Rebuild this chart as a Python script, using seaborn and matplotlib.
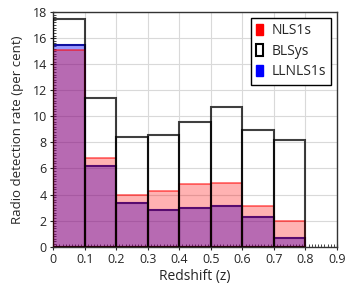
import numpy as np
import pandas as pd
import matplotlib
matplotlib.use("Agg")
import matplotlib.pyplot as plt
import seaborn as sns
from matplotlib.patches import Patch
from matplotlib.ticker import AutoMinorLocator, MultipleLocator

bin_edges = [0.0, 0.1, 0.2, 0.3, 0.4, 0.5, 0.6, 0.7, 0.8]
bin_centers = [0.05, 0.15, 0.25, 0.35, 0.45, 0.55, 0.65, 0.75]
nls1s = [15.1, 6.8, 4.0, 4.3, 4.8, 4.9, 3.1, 1.95]
blsys = [17.5, 11.4, 8.45, 8.6, 9.55, 10.7, 8.95, 8.2]
llnls1s = [15.5, 6.2, 3.35, 2.85, 2.95, 3.1, 2.3, 0.7]
xtick_labels = ["0", "0.1", "0.2", "0.3", "0.4", "0.5", "0.6", "0.7", "0.8", "0.9"]

df = pd.DataFrame({"z": bin_centers, "NLS1s": nls1s, "BLSys": blsys, "LLNLS1s": llnls1s})

sns.set_style("ticks")
plt.rcParams['font.family'] = ['Open Sans', 'DejaVu Sans']

fig = plt.figure(figsize=(3.54, 2.94), dpi=100)
ax = fig.add_axes([0.15, 0.161, 0.802, 0.798])

ax.grid(True, color="#d9d9d9", linewidth=0.8, zorder=0)
ax.set_axisbelow(True)

n0 = len(ax.patches)
sns.histplot(data=df, x="z", weights="LLNLS1s", bins=bin_edges, ax=ax,
             element="bars", stat="count")
for p in ax.patches[n0:]:
    p.set_facecolor((0.0, 0.0, 1.0, 0.4))
    p.set_edgecolor("#1010a0")
    p.set_linewidth(1.5)
    p.set_zorder(2)

n1 = len(ax.patches)
sns.histplot(data=df, x="z", weights="NLS1s", bins=bin_edges, ax=ax,
             element="bars", stat="count")
for p in ax.patches[n1:]:
    p.set_facecolor((1.0, 0.0, 0.0, 0.3))
    p.set_edgecolor((1.0, 0.0, 0.0, 0.6))
    p.set_linewidth(1.2)
    p.set_zorder(3)

n2 = len(ax.patches)
sns.histplot(data=df, x="z", weights="BLSys", bins=bin_edges, ax=ax,
             element="bars", fill=False, stat="count")
for p in ax.patches[n2:]:
    p.set_facecolor("none")
    p.set_edgecolor((0, 0, 0, 0.75))
    p.set_linewidth(1.5)
    p.set_zorder(4)

ax.set_xlim(0, 0.9)
ax.set_ylim(0, 18)
ax.set_xticks(np.arange(0, 0.91, 0.1))
ax.set_xticklabels(xtick_labels)
ax.yaxis.set_major_locator(MultipleLocator(2))
ax.xaxis.set_minor_locator(AutoMinorLocator(10))
ax.yaxis.set_minor_locator(AutoMinorLocator(10))
ax.tick_params(which="major", direction="inout", length=5, width=0.8, labelsize=9, pad=2)
ax.tick_params(which="minor", direction="in", length=2, width=0.6)
for s in ax.spines.values():
    s.set_visible(True)
    s.set_color("#333333")
    s.set_linewidth(1.0)

ax.set_xlabel("Redshift (z)", fontsize=10, labelpad=2)
ax.set_ylabel("Radio detection rate (per cent)", fontsize=9.5, labelpad=6)

handles = [Patch(facecolor="red", edgecolor="red"),
           Patch(facecolor="white", edgecolor="black", linewidth=1.5),
           Patch(facecolor="blue", edgecolor="blue")]
leg = ax.legend(handles, ["NLS1s", "BLSys", "LLNLS1s"], loc="upper right",
                fontsize=10, fancybox=False, frameon=True, handlelength=0.5,
                handleheight=0.9, handletextpad=0.6, borderpad=0.4,
                labelspacing=0.4, borderaxespad=0.4)
leg.get_frame().set_edgecolor("black")
leg.get_frame().set_linewidth(1.0)
leg.get_frame().set_alpha(1)
leg.set_zorder(10)

fig.savefig("out.png", dpi=100)
